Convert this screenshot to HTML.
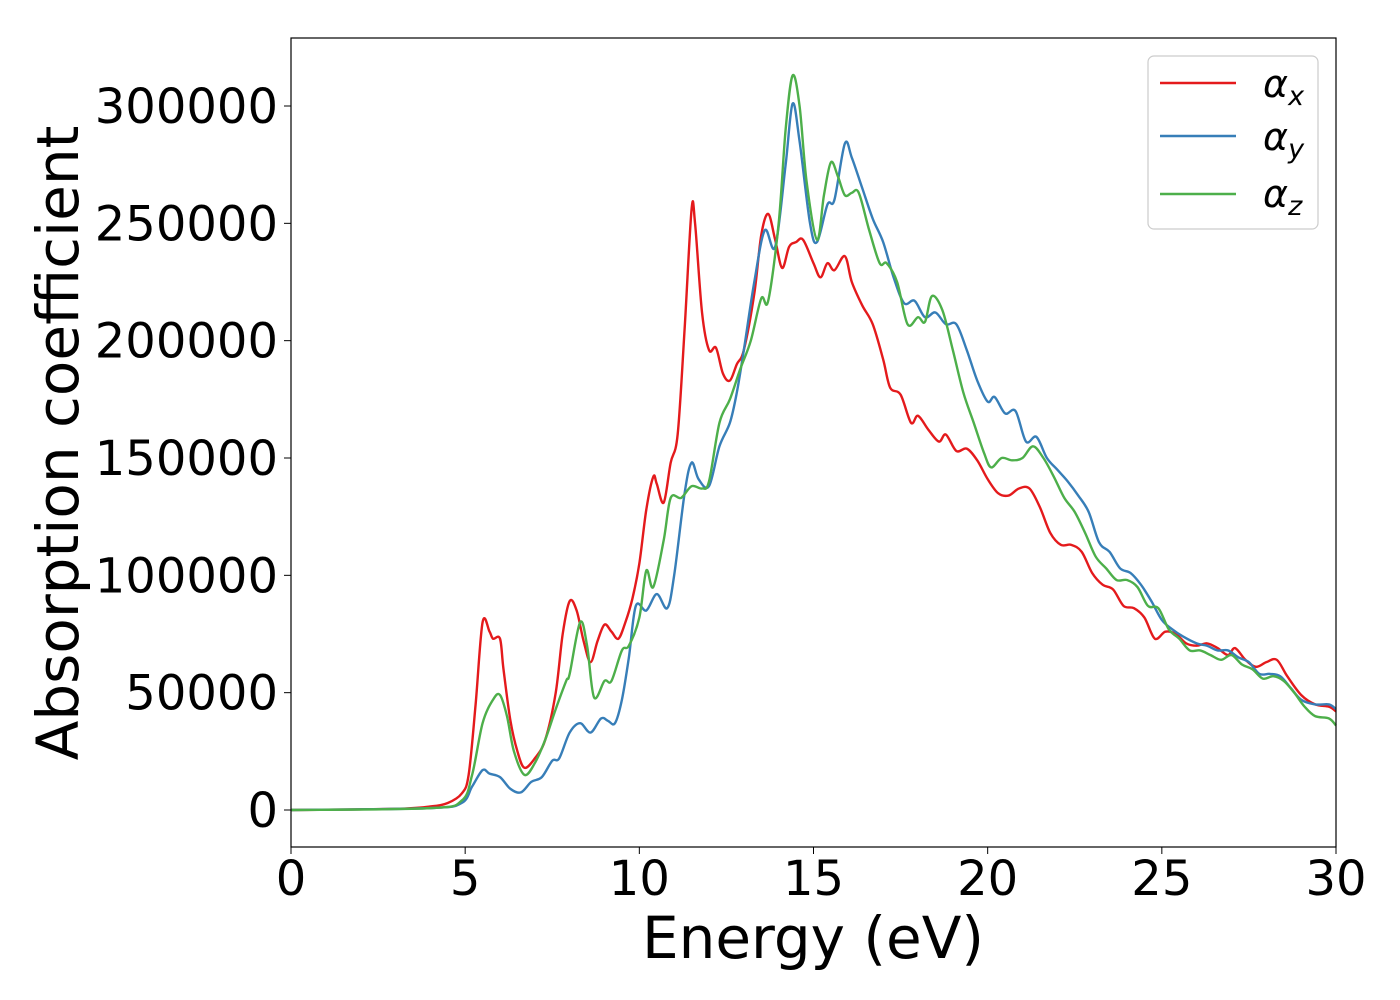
<!DOCTYPE html>
<html><head><meta charset="utf-8"><style>
body{margin:0;background:#fff}
svg{display:block;font-family:"DejaVu Sans","Liberation Sans",sans-serif}
</style></head><body>
<svg id="chart" width="1400" height="1000" viewBox="0 0 1400 1000" xmlns="http://www.w3.org/2000/svg">
<g id="plot"></g>
<rect x="291" y="38" width="1045" height="809" fill="none" stroke="#000" stroke-width="1.2"/>
<g id="axes"></g>
<text x="813" y="958" font-size="58" text-anchor="middle">Energy (eV)</text>
<text transform="translate(78,443) rotate(-90)" font-size="58" text-anchor="middle">Absorption coefficient</text>
<g>
<rect x="1148" y="56" width="170" height="173" rx="6" fill="#fff" stroke="#ccc" stroke-width="1.2"/>
<line x1="1160" y1="83" x2="1236" y2="83" stroke="#e41a1c" stroke-width="2.5"/>
<text x="1263" y="97" font-size="38" font-style="italic">α<tspan font-size="27" dy="8">x</tspan></text>
<line x1="1160" y1="136" x2="1236" y2="136" stroke="#377eb8" stroke-width="2.5"/>
<text x="1263" y="150" font-size="38" font-style="italic">α<tspan font-size="27" dy="8">y</tspan></text>
<line x1="1160" y1="194" x2="1236" y2="194" stroke="#4daf4a" stroke-width="2.5"/>
<text x="1263" y="207" font-size="38" font-style="italic">α<tspan font-size="27" dy="8">z</tspan></text>
</g>
</svg>
<script>
const xTicks=[0,5,10,15,20,25,30];
const yTicks=[0,50000,100000,150000,200000,250000,300000];
const redE=[0,3,4,4.5,4.9,5.1,5.3,5.5,5.7,5.8,6.0,6.1,6.3,6.5,6.7,7.0,7.3,7.6,7.8,8.0,8.2,8.4,8.6,8.8,9.0,9.2,9.4,9.6,9.8,10.0,10.2,10.4,10.5,10.7,10.9,11.1,11.3,11.5,11.6,11.8,12.0,12.2,12.4,12.6,12.8,13.0,13.3,13.5,13.7,13.9,14.1,14.3,14.5,14.7,15.0,15.2,15.4,15.6,15.9,16.1,16.4,16.7,17.0,17.2,17.5,17.8,18.0,18.3,18.6,18.8,19.1,19.4,19.7,20.0,20.3,20.6,20.9,21.2,21.5,21.8,22.1,22.4,22.7,23.0,23.3,23.6,23.9,24.2,24.5,24.8,25.1,25.4,25.7,26.0,26.3,26.6,26.9,27.1,27.4,27.7,28.0,28.3,28.6,29.0,29.4,29.8,30];
const redV=[0,500,1500,3000,7000,15000,45000,80000,76000,73000,73000,60000,38000,25000,18000,22000,30000,50000,75000,89000,85000,72000,63000,72000,79000,76000,73000,80000,90000,105000,128000,142000,139000,131000,148000,160000,205000,256000,250000,212000,196000,197000,186000,183000,190000,196000,220000,245000,254000,243000,231000,240000,242000,243000,233000,227000,233000,230000,236000,225000,215000,207000,192000,180000,177000,165000,168000,162000,157000,160000,153000,154000,149000,141000,135000,134000,137000,137000,129000,118000,113000,113000,110000,101000,96000,94000,87000,86000,82000,73000,76000,75000,71000,70000,71000,69000,66000,69000,64000,61000,63000,64000,57000,49000,45000,44000,42000];
const blueE=[0,4,4.9,5.2,5.5,5.7,6.0,6.3,6.6,6.9,7.2,7.5,7.7,8.0,8.3,8.6,8.9,9.1,9.3,9.5,9.7,9.9,10.2,10.5,10.8,11.0,11.3,11.5,11.7,12.0,12.3,12.6,12.8,13.0,13.3,13.6,13.9,14.2,14.4,14.6,14.9,15.1,15.4,15.6,15.9,16.1,16.4,16.7,17.0,17.3,17.6,17.9,18.2,18.5,18.8,19.1,19.4,19.7,20.0,20.2,20.5,20.8,21.1,21.4,21.7,22.0,22.3,22.6,22.9,23.2,23.5,23.8,24.1,24.4,24.7,25.0,25.3,25.6,26.0,26.3,26.6,26.9,27.2,27.5,27.8,28.1,28.4,28.7,29.0,29.4,29.8,30];
const blueV=[0,800,3000,10000,17000,15500,14000,9000,7500,12000,14000,21000,22000,33000,37000,33000,39000,38000,37000,47000,65000,87000,85000,92000,86000,100000,135000,148000,141000,138000,155000,165000,178000,196000,225000,247000,240000,275000,301000,285000,250000,242000,258000,260000,284000,278000,265000,252000,242000,227000,216000,217000,210000,212000,207000,207000,196000,183000,174000,176000,169000,170000,157000,159000,150000,145000,140000,134000,127000,114000,110000,103000,101000,96000,89000,81000,77000,74000,71000,70000,68000,68000,65000,63000,58000,58000,57000,52000,47000,45000,45000,43000];
const greenE=[0,4,4.9,5.2,5.5,5.8,6.0,6.2,6.4,6.7,7.0,7.3,7.6,7.9,8.0,8.3,8.5,8.7,9.0,9.2,9.5,9.7,10.0,10.2,10.4,10.7,10.9,11.2,11.5,11.8,12.0,12.3,12.6,12.9,13.2,13.5,13.7,14.0,14.2,14.4,14.6,14.8,15.1,15.3,15.5,15.7,15.9,16.1,16.3,16.6,16.9,17.1,17.4,17.7,18.0,18.2,18.4,18.7,19.0,19.3,19.6,19.9,20.1,20.4,20.7,21.0,21.3,21.6,21.9,22.2,22.5,22.8,23.1,23.4,23.7,24.0,24.3,24.6,24.9,25.2,25.5,25.8,26.1,26.4,26.7,27.0,27.3,27.6,27.9,28.2,28.5,28.8,29.1,29.4,29.8,30];
const greenV=[0,800,4000,15000,37000,47000,49000,40000,25000,15000,20000,30000,43000,55000,58000,80000,70000,48000,55000,55000,68000,70000,82000,102000,95000,115000,133000,133000,138000,137000,140000,165000,175000,188000,200000,218000,217000,250000,290000,313000,300000,268000,243000,262000,276000,270000,262000,263000,263000,247000,233000,233000,225000,207000,210000,208000,219000,213000,196000,178000,165000,152000,146000,150000,149000,150000,155000,150000,142000,133000,127000,118000,108000,103000,98000,98000,95000,87000,86000,77000,73000,68000,68000,66000,64000,66000,62000,60000,56000,57000,55000,50000,44000,40000,39000,36000];
const NS="http://www.w3.org/2000/svg";
const X=v=>291+v*(1045/30);
const Y=v=>810-v*(704/300000);
const plot=document.getElementById('plot'),axes=document.getElementById('axes');
function path(E,V){let d='';for(let i=0;i<E.length;i++){const x=X(E[i]),y=Y(V[i]);if(i==0){d+='M'+x+','+y;}else{const x0=X(E[i-1]),y0=Y(V[i-1]);const xp=i>1?X(E[i-2]):x0,yp=i>1?Y(V[i-2]):y0;const xn=i<E.length-1?X(E[i+1]):x,yn=i<E.length-1?Y(V[i+1]):y;d+=' C'+(x0+(x-xp)/6)+','+(y0+(y-yp)/6)+' '+(x-(xn-x0)/6)+','+(y-(yn-y0)/6)+' '+x+','+y;}}return d;}
const series=[['series-alpha-x',redE,redV,'#e41a1c'],['series-alpha-y',blueE,blueV,'#377eb8'],['series-alpha-z',greenE,greenV,'#4daf4a']];
for(const s of series){const p=document.createElementNS(NS,'path');p.setAttribute('d',path(s[1],s[2]));p.setAttribute('fill','none');p.setAttribute('stroke',s[3]);p.setAttribute('stroke-width','2.4');


plot.appendChild(p);}
for(const t of xTicks){const l=document.createElementNS(NS,'line');l.setAttribute('x1',X(t));l.setAttribute('x2',X(t));l.setAttribute('y1',847);l.setAttribute('y2',854);l.setAttribute('stroke','#000');


axes.appendChild(l);const tx=document.createElementNS(NS,'text');tx.setAttribute('x',X(t));tx.setAttribute('y',895);tx.setAttribute('font-size','48');tx.setAttribute('text-anchor','middle');tx.textContent=t;


axes.appendChild(tx);}
for(const t of yTicks){const l=document.createElementNS(NS,'line');l.setAttribute('x1',284);l.setAttribute('x2',291);l.setAttribute('y1',Y(t));l.setAttribute('y2',Y(t));l.setAttribute('stroke','#000');


axes.appendChild(l);const tx=document.createElementNS(NS,'text');tx.setAttribute('x',278);tx.setAttribute('y',Y(t)+17);tx.setAttribute('font-size','48');tx.setAttribute('text-anchor','end');tx.textContent=t;


axes.appendChild(tx);}
</script>
</body></html>
